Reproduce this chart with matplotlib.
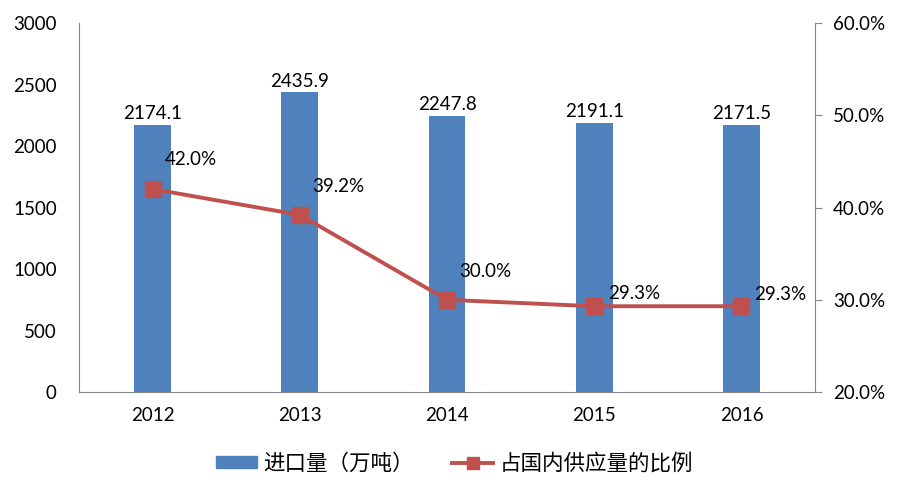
import matplotlib
matplotlib.use("Agg")
import matplotlib.pyplot as plt
from matplotlib.lines import Line2D
from matplotlib.patches import Patch
import numpy as np

years = ["2012", "2013", "2014", "2015", "2016"]
imports = [2174.1, 2435.9, 2247.8, 2191.1, 2171.5]
share = [42.0, 39.2, 30.0, 29.3, 29.3]
bar_name = "进口量（万吨）"
line_name = "占国内供应量的比例"

plt.rcParams['font.family'] = ['Lato', 'Noto Sans CJK SC', 'DejaVu Sans']

blue = "#4F81BD"
red = "#C0504D"
spine_c = "#868686"
fs = 13.5

fig = plt.figure(figsize=(9, 4.95), dpi=100)
ax = fig.add_axes([0.0878, 0.208, 0.8178, 0.7455])
x = np.arange(len(years))
ax.bar(x, imports, width=0.25, color=blue, zorder=2)
for xi, v in zip(x, imports):
    ax.annotate(f"{v:.1f}", (xi, v), xytext=(0, 2), textcoords="offset points",
                ha="center", va="bottom", fontsize=fs, color="black")
ax.set_xlim(-0.5, len(years) - 0.5)
ax.set_ylim(0, 3000)
ax.set_yticks(np.arange(0, 3001, 500))
ax.set_xticks(x)
ax.set_xticklabels(years)
ax.tick_params(axis="y", length=0, pad=16, labelsize=fs)
ax.tick_params(axis="x", length=0, pad=11, labelsize=fs)
for s in ["top", "right"]:
    ax.spines[s].set_visible(False)
for s in ["left", "bottom"]:
    ax.spines[s].set_color(spine_c)

ax2 = ax.twinx()
ax2.plot(x, share, color=red, lw=2.8, marker="s", ms=11, mfc=red, mec=red, zorder=3)
offsets = [(9, 15), (9, 14), (9, 14), (10, 3), (9, 2)]
for xi, v, off in zip(x, share, offsets):
    ax2.annotate(f"{v:.1f}%", (xi, v), xytext=off, textcoords="offset points",
                 ha="left", va="bottom", fontsize=fs, color="black")
ax2.set_ylim(20, 60)
ax2.set_yticks(np.arange(20, 61, 10))
ax2.set_yticklabels([f"{t:.1f}%" for t in np.arange(20, 61, 10)])
ax2.tick_params(axis="y", length=5, color=spine_c, pad=8, labelsize=fs)
for s in ["top", "left", "bottom"]:
    ax2.spines[s].set_visible(False)
ax2.spines["right"].set_color(spine_c)

handles = [Patch(color=blue, label=bar_name),
           Line2D([0], [0], color=red, lw=2.8, marker="s", ms=9, label=line_name)]
fig.legend(handles=handles, loc="center", bbox_to_anchor=(0.505, 0.063), ncol=2,
           frameon=False, handlelength=1.9, handleheight=0.5, handletextpad=0.3,
           columnspacing=1.8, prop={'family': ['Noto Sans CJK SC'], 'size': 15.5})

fig.savefig("out.png", dpi=100)
